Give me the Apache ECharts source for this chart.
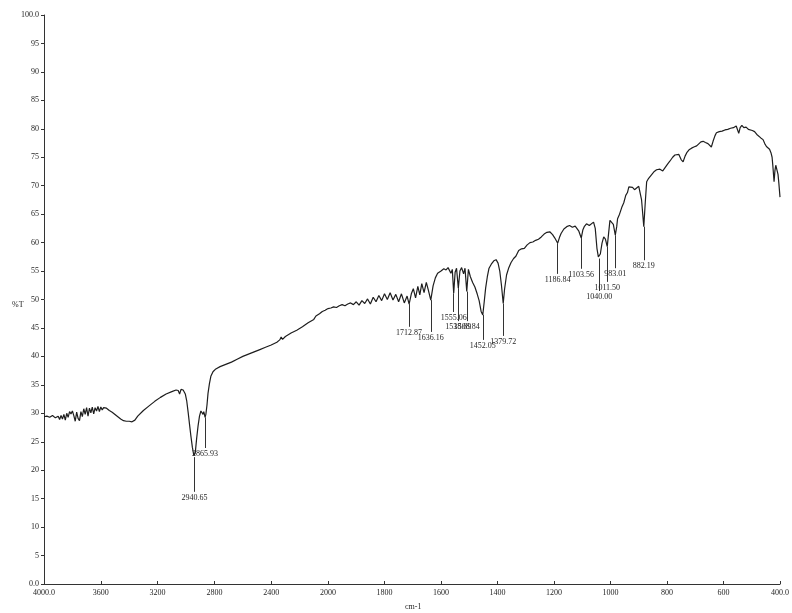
<!DOCTYPE html>
<html>
<head>
<meta charset="utf-8">
<script src="https://cdn.jsdelivr.net/npm/echarts@6/dist/echarts.min.js"></script>
<style>
  html, body { margin: 0; padding: 0; background: #fff; }
  #chart { width: 792px; height: 613px; }
</style>
</head>
<body>
<div id="chart"></div>
<script>
// IR transmittance spectrum. The abscissa changes scale at 2000 cm-1,
// so the high-wavenumber and low-wavenumber parts live in two grids.

// 4000 - 2000 cm-1
const waveHigh = [4000, 3980, 3960, 3940, 3920, 3900, 3890, 3880, 3870, 3860, 3850, 3840, 3830, 3820, 3810, 3800,
  3790, 3780, 3770, 3760, 3750, 3740, 3730, 3720, 3710, 3700, 3690, 3680, 3670, 3660, 3650, 3640, 3630, 3620,
  3610, 3600, 3590, 3580, 3570, 3560, 3540, 3520, 3500, 3480, 3460, 3440, 3420, 3400, 3380, 3360, 3340, 3300,
  3260, 3220, 3180, 3140, 3100, 3070, 3055, 3045, 3035, 3020, 3005, 2995, 2985, 2975, 2965, 2955, 2945, 2940.65,
  2935, 2925, 2915, 2905, 2895, 2887, 2880, 2875, 2870, 2865.93, 2860, 2852, 2845, 2835, 2825, 2810, 2790, 2760,
  2720, 2680, 2640, 2600, 2560, 2520, 2480, 2440, 2400, 2360, 2340, 2330, 2320, 2300, 2260, 2220, 2180, 2140,
  2100, 2085, 2080, 2060, 2040, 2020, 2000];
const transHigh = [29.4, 29.5, 29.3, 29.6, 29.2, 29.5, 28.9, 29.6, 29.0, 29.8, 28.8, 30.0, 29.3, 30.3, 29.9, 30.4,
  29.6, 28.6, 30.2, 29.1, 28.7, 30.3, 29.4, 30.8, 29.8, 31.0, 29.5, 30.9, 30.1, 31.1, 29.9, 31.0, 30.4, 31.2,
  30.3, 31.1, 30.6, 31.0, 30.7, 30.9, 30.5, 30.2, 29.8, 29.4, 29.0, 28.7, 28.6, 28.6, 28.5, 28.8, 29.5, 30.5,
  31.3, 32.1, 32.8, 33.4, 33.8, 34.1, 34.0, 33.4, 34.2, 34.1, 33.4, 32.2, 30.2, 28.0, 25.9, 24.0, 22.6, 22.3,
  23.0, 25.6, 27.8, 29.5, 30.4, 30.1, 29.8, 30.3, 29.8, 29.3, 29.8, 31.5, 33.5, 35.2, 36.5, 37.3, 37.8, 38.2,
  38.6, 39.0, 39.5, 40.0, 40.4, 40.8, 41.2, 41.6, 42.0, 42.5, 42.9, 43.4, 43.0, 43.5, 44.1, 44.6, 45.2, 45.9,
  46.5, 47.1, 46.8, 47.5, 47.9, 48.1, 48.4];

// 2000 - 400 cm-1
const waveLow = [2000, 1990, 1980, 1970, 1960, 1950, 1940, 1930, 1920, 1910, 1900, 1890, 1880, 1870, 1860, 1850,
  1840, 1830, 1820, 1810, 1800, 1790, 1780, 1770, 1760, 1750, 1740, 1730, 1720, 1712.87, 1705, 1698, 1690, 1682,
  1675, 1668, 1660, 1652, 1645, 1636.16, 1628, 1620, 1612, 1600, 1590, 1582, 1575, 1565, 1560, 1555.06, 1550,
  1545, 1538.69, 1533, 1527, 1520, 1515, 1508.84, 1503, 1496, 1488, 1480, 1472, 1465, 1458, 1452.05, 1447, 1442,
  1436, 1430, 1422, 1413, 1405, 1398, 1392, 1386, 1379.72, 1375, 1368, 1360, 1352, 1343, 1335, 1325, 1315, 1305,
  1295, 1285, 1275, 1265, 1255, 1245, 1235, 1225, 1215, 1205, 1197, 1186.84, 1180, 1175, 1165, 1155, 1145, 1135,
  1125, 1118, 1112, 1103.56, 1098, 1093, 1085, 1075, 1068, 1060, 1054, 1048, 1043, 1040.00, 1036, 1030, 1024,
  1018, 1011.50, 1007, 1002, 996, 990, 983.01, 978, 975, 968, 960, 953, 946, 940, 935, 929, 922, 915, 908, 900,
  895, 890, 882.19, 877, 872, 865, 855, 845, 837, 825, 815, 808, 798, 790, 780, 772, 765, 758, 750, 743, 736,
  730, 722, 713, 705, 695, 688, 680, 672, 664, 655, 648, 643, 637, 630, 625, 615, 605, 595, 585, 575, 565, 555,
  550, 546, 541, 535, 528, 520, 512, 505, 498, 490, 482, 475, 468, 460, 454, 448, 442, 437, 432, 428, 425, 421,
  418, 415, 411, 407, 404, 400];
const transLow = [48.4, 48.5, 48.7, 48.6, 48.9, 49.1, 48.9, 49.2, 49.4, 49.1, 49.6, 49.0, 49.8, 49.3, 50.1, 49.2,
  50.4, 49.6, 50.7, 49.8, 51.0, 50.0, 51.2, 49.9, 50.9, 49.6, 51.0, 49.4, 50.6, 49.2, 51.0, 51.9, 50.3, 52.3,
  50.8, 52.8, 51.2, 53.0, 51.7, 49.9, 52.4, 53.8, 54.6, 55.0, 55.4, 55.2, 55.6, 54.6, 55.3, 51.1, 54.8,
  55.5, 52.0, 55.0, 55.6, 54.5, 55.5, 51.4, 55.3, 54.0, 53.0, 52.2, 51.0, 49.8, 47.9, 47.3, 49.6, 52.0,
  54.0, 55.5, 56.2, 56.8, 57.0, 56.4, 55.0, 52.5, 49.3, 51.8, 54.3, 55.6, 56.5, 57.2, 57.6, 58.6, 58.9, 59.0,
  59.6, 60.0, 60.1, 60.4, 60.6, 61.0, 61.5, 61.8, 61.9, 61.4, 60.8, 59.9, 61.0, 61.6, 62.4, 62.8, 63.0, 62.7,
  62.9, 62.6, 62.0, 60.8, 62.2, 62.8, 63.3, 63.0, 63.3, 63.6, 62.5, 59.0, 57.5, 57.2, 58.0, 59.9, 61.0,
  60.6, 59.3, 61.5, 63.9, 63.7, 63.2, 61.3, 62.8, 64.2, 65.0, 66.2, 67.0, 68.3, 68.8, 69.8, 70.1, 69.7, 69.3, 69.6, 69.9,
  69.6, 67.5, 62.8, 67.0, 70.7, 71.3, 71.9, 72.5, 72.8, 72.9, 72.6, 72.8, 73.8, 74.3, 75.0, 75.4, 75.3, 75.5, 74.6, 74.2, 75.2,
  75.8, 76.3, 76.6, 76.8, 77.0, 77.1, 77.7, 77.8, 77.6, 77.4, 77.2, 76.8, 77.8, 78.8, 79.3, 79.5, 79.6, 79.8, 79.9, 80.1, 80.2, 80.5,
  79.8, 79.2, 80.2, 80.6, 80.2, 80.3, 79.9, 80.2, 79.7, 79.5, 79.0, 78.8, 78.4, 78.1, 77.4, 76.9, 76.6, 76.4, 75.8, 75.0, 73.3, 70.7,
  72.6, 73.6, 73.4, 72.0, 70.4, 68.0];

// Peak picks: wavenumber, printed label, and the %T level where each drop line ends
const peakWave  = [2940.65, 2865.93, 1712.87, 1636.16, 1555.06, 1538.69, 1508.84, 1452.05, 1379.72, 1186.84, 1103.56, 1040.00, 1011.50, 983.01, 882.19];
const peakLabel = ['2940.65', '2865.93', '1712.87', '1636.16', '1555.06', '1538.69', '1508.84', '1452.05', '1379.72', '1186.84', '1103.56', '1040.00', '1011.50', '983.01', '882.19'];
const peakStemEnd = [16.2, 23.9, 45.2, 44.3, 47.8, 46.2, 46.2, 42.9, 43.6, 54.5, 55.4, 51.5, 53.1, 55.5, 56.9];

const yTickLabels = { 0: '0.0', 100: '100.0' };
const xTickLabels = { 4000: '4000.0', 400: '400.0' };

const SERIF = "'Liberation Serif', 'DejaVu Serif', serif";
const INK = '#1e1e1e';
const FONT_SIZE = 8;

function lookupT(w) {
  let i = waveHigh.indexOf(w);
  if (i >= 0) return transHigh[i];
  i = waveLow.indexOf(w);
  return transLow[i];
}

function peakLines(filter) {
  const out = [];
  peakWave.forEach((w, i) => {
    if (!filter(w)) return;
    out.push([
      { name: peakLabel[i], coord: [w, lookupT(w)] },
      { name: peakLabel[i], coord: [w, peakStemEnd[i]] }
    ]);
  });
  return out;
}

const markLineStyle = {
  silent: true,
  animation: false,
  symbol: ['none', 'none'],
  lineStyle: { color: '#333', width: 1, type: 'solid' },
  label: {
    show: true,
    position: 'end',
    distance: 2,
    formatter: p => p.name,
    fontSize: FONT_SIZE,
    fontFamily: SERIF,
    color: INK
  },
  emphasis: { disabled: true }
};

const axisLineStyle = { lineStyle: { color: '#333', width: 1 } };
const tickLabelStyle = { fontSize: FONT_SIZE, fontFamily: SERIF, color: INK };

const chart = echarts.init(document.getElementById('chart'), null, { renderer: 'canvas' });
chart.setOption({
  backgroundColor: '#fff',
  animation: false,
  grid: [
    { left: 44, top: 15, width: 284, height: 569 },
    { left: 328, top: 15, width: 454, height: 569 }
  ],
  xAxis: [
    {
      type: 'value', gridIndex: 0, min: 2000, max: 4000, interval: 400, inverse: true,
      axisLine: axisLineStyle,
      axisTick: { show: true, inside: true, length: 3, lineStyle: { color: '#333' } },
      axisLabel: Object.assign({ margin: 5, formatter: v => xTickLabels[v] || String(v) }, tickLabelStyle),
      splitLine: { show: false }
    },
    {
      type: 'value', gridIndex: 1, min: 400, max: 2000, interval: 200, inverse: true,
      axisLine: axisLineStyle,
      axisTick: { show: true, inside: true, length: 3, lineStyle: { color: '#333' } },
      axisLabel: Object.assign({ margin: 5, formatter: v => v === 2000 ? '' : (xTickLabels[v] || String(v)) }, tickLabelStyle),
      splitLine: { show: false }
    }
  ],
  yAxis: [
    {
      type: 'value', gridIndex: 0, min: 0, max: 100, interval: 5,
      axisLine: { show: true, lineStyle: { color: '#333', width: 1 } },
      axisTick: { show: true, inside: false, length: 3, lineStyle: { color: '#333' } },
      axisLabel: Object.assign({ margin: 5, formatter: v => yTickLabels[v] || String(v) }, tickLabelStyle),
      splitLine: { show: false }
    },
    { type: 'value', gridIndex: 1, min: 0, max: 100, show: false, splitLine: { show: false } }
  ],
  graphic: [
    { type: 'text', left: 12, top: 301, style: { text: '%T', font: FONT_SIZE + 'px ' + SERIF, fill: INK } },
    { type: 'text', left: 405, top: 603, style: { text: 'cm-1', font: FONT_SIZE + 'px ' + SERIF, fill: INK } }
  ],
  series: [
    {
      type: 'line', xAxisIndex: 0, yAxisIndex: 0, showSymbol: false, symbol: 'none',
      lineStyle: { color: INK, width: 1.2 },
      data: waveHigh.map((w, i) => [w, transHigh[i]]),
      markLine: Object.assign({ data: peakLines(w => w > 2000) }, markLineStyle)
    },
    {
      type: 'line', xAxisIndex: 1, yAxisIndex: 1, showSymbol: false, symbol: 'none',
      lineStyle: { color: INK, width: 1.2 },
      data: waveLow.map((w, i) => [w, transLow[i]]),
      markLine: Object.assign({ data: peakLines(w => w <= 2000) }, markLineStyle)
    }
  ]
});
</script>
</body>
</html>
